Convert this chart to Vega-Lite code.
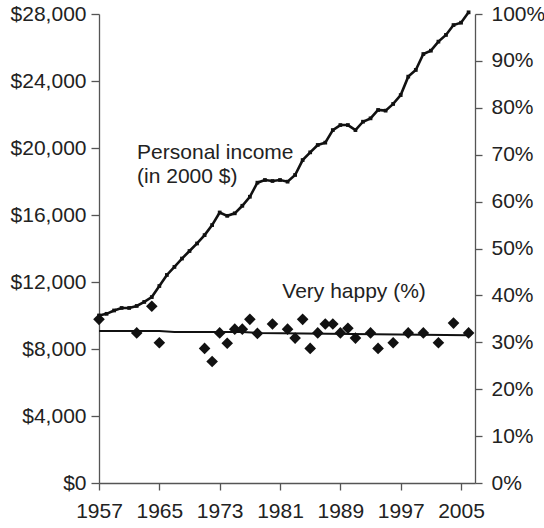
{
  "$schema": "https://vega.github.io/schema/vega-lite/v6.json",
  "width": 376,
  "height": 469,
  "autosize": {"type": "none"},
  "padding": {"left": 99, "top": 14, "right": 69, "bottom": 45},
  "background": "white",
  "config": {
    "view": {"stroke": null},
    "font": "Liberation Sans",
    "axis": {
      "grid": false,
      "domainColor": "#555555",
      "domainWidth": 1.3,
      "tickColor": "#555555",
      "tickWidth": 1.3,
      "labelFont": "Liberation Sans",
      "labelFontSize": 21,
      "labelColor": "#222222",
      "title": null
    }
  },
  "datasets": {
    "income": [
      {"year": 1957, "income": 10000}, {"year": 1958, "income": 10100}, {"year": 1959, "income": 10300},
      {"year": 1960, "income": 10450}, {"year": 1961, "income": 10450}, {"year": 1962, "income": 10570},
      {"year": 1963, "income": 10810}, {"year": 1964, "income": 11100}, {"year": 1965, "income": 11760},
      {"year": 1966, "income": 12420}, {"year": 1967, "income": 12900}, {"year": 1968, "income": 13400},
      {"year": 1969, "income": 13850}, {"year": 1970, "income": 14300}, {"year": 1971, "income": 14800},
      {"year": 1972, "income": 15400}, {"year": 1973, "income": 16150}, {"year": 1974, "income": 15950},
      {"year": 1975, "income": 16100}, {"year": 1976, "income": 16550}, {"year": 1977, "income": 17090},
      {"year": 1978, "income": 17930}, {"year": 1979, "income": 18090}, {"year": 1980, "income": 18030},
      {"year": 1981, "income": 18090}, {"year": 1982, "income": 17990}, {"year": 1983, "income": 18390},
      {"year": 1984, "income": 19280}, {"year": 1985, "income": 19740}, {"year": 1986, "income": 20180},
      {"year": 1987, "income": 20320}, {"year": 1988, "income": 21070}, {"year": 1989, "income": 21370},
      {"year": 1990, "income": 21370}, {"year": 1991, "income": 21070}, {"year": 1992, "income": 21570},
      {"year": 1993, "income": 21770}, {"year": 1994, "income": 22270}, {"year": 1995, "income": 22230},
      {"year": 1996, "income": 22630}, {"year": 1997, "income": 23160}, {"year": 1998, "income": 24260},
      {"year": 1999, "income": 24660}, {"year": 2000, "income": 25610}, {"year": 2001, "income": 25810},
      {"year": 2002, "income": 26350}, {"year": 2003, "income": 26750}, {"year": 2004, "income": 27340},
      {"year": 2005, "income": 27480}, {"year": 2006, "income": 28100}
    ],
    "happy": [
      {"year": 1957, "pct": 34.9}, {"year": 1962, "pct": 32.0}, {"year": 1964, "pct": 37.7},
      {"year": 1965, "pct": 29.9}, {"year": 1971, "pct": 28.7}, {"year": 1972, "pct": 25.9},
      {"year": 1973, "pct": 32.0}, {"year": 1974, "pct": 29.8}, {"year": 1975, "pct": 32.8},
      {"year": 1976, "pct": 32.8}, {"year": 1977, "pct": 34.9}, {"year": 1978, "pct": 31.9},
      {"year": 1980, "pct": 33.9}, {"year": 1982, "pct": 32.8}, {"year": 1983, "pct": 30.9},
      {"year": 1984, "pct": 34.9}, {"year": 1985, "pct": 28.7}, {"year": 1986, "pct": 32.0},
      {"year": 1987, "pct": 33.9}, {"year": 1988, "pct": 33.9}, {"year": 1989, "pct": 32.0},
      {"year": 1990, "pct": 33.0}, {"year": 1991, "pct": 30.9}, {"year": 1993, "pct": 32.0},
      {"year": 1994, "pct": 28.7}, {"year": 1996, "pct": 29.9}, {"year": 1998, "pct": 32.0},
      {"year": 2000, "pct": 32.0}, {"year": 2002, "pct": 29.9}, {"year": 2004, "pct": 34.1},
      {"year": 2006, "pct": 32.0}
    ],
    "trend": [
      {"year": 1957, "pct": 32.4}, {"year": 1965, "pct": 32.4}, {"year": 1967, "pct": 32.2},
      {"year": 1976, "pct": 32.2}, {"year": 1978, "pct": 32.0}, {"year": 2006, "pct": 31.5}
    ],
    "labels": [{"name": "annotations"}]
  },
  "layer": [
    {
      "layer": [
        {
          "data": {"name": "income"},
          "mark": {"type": "line", "color": "#111111", "strokeWidth": 2.6,
                   "point": {"shape": "square", "size": 14, "filled": true, "color": "#111111"}},
          "encoding": {
            "x": {"field": "year", "type": "quantitative",
                  "scale": {"domain": [1957, 2006.85], "nice": false, "zero": false},
                  "axis": {"values": [1957, 1965, 1973, 1981, 1989, 1997, 2005], "format": "d",
                           "tickSize": 7, "labelPadding": 10, "labelFlush": false}},
            "y": {"field": "income", "type": "quantitative",
                  "scale": {"domain": [0, 28000], "nice": false},
                  "axis": {"orient": "left", "values": [0, 4000, 8000, 12000, 16000, 20000, 24000, 28000],
                           "format": "$,d", "tickSize": 8, "labelPadding": 5}}
          }
        },
        {
          "data": {"name": "labels"},
          "mark": {"type": "text", "align": "left", "baseline": "alphabetic", "fontSize": 21, "color": "#222222", "font": "Liberation Sans"},
          "encoding": {
            "x": {"datum": 1962.05, "type": "quantitative"},
            "y": {"datum": 19343, "type": "quantitative"},
            "text": {"value": "Personal income"}
          }
        },
        {
          "data": {"name": "labels"},
          "mark": {"type": "text", "align": "left", "baseline": "alphabetic", "fontSize": 21, "color": "#222222", "font": "Liberation Sans"},
          "encoding": {
            "x": {"datum": 1962.05, "type": "quantitative"},
            "y": {"datum": 17910, "type": "quantitative"},
            "text": {"value": "(in 2000 $)"}
          }
        }
      ]
    },
    {
      "layer": [
        {
          "data": {"name": "trend"},
          "mark": {"type": "line", "color": "#111111", "strokeWidth": 2},
          "encoding": {
            "x": {"field": "year", "type": "quantitative"},
            "y": {"field": "pct", "type": "quantitative",
                  "scale": {"domain": [0, 100], "nice": false},
                  "axis": {"orient": "right", "values": [0, 10, 20, 30, 40, 50, 60, 70, 80, 90, 100],
                           "labelExpr": "datum.value + '%'", "tickSize": 7, "labelPadding": 9}}
          }
        },
        {
          "data": {"name": "happy"},
          "mark": {"type": "point", "shape": "diamond", "filled": true, "size": 135, "color": "#111111", "opacity": 1},
          "encoding": {
            "x": {"field": "year", "type": "quantitative"},
            "y": {"field": "pct", "type": "quantitative"}
          }
        },
        {
          "data": {"name": "labels"},
          "mark": {"type": "text", "align": "left", "baseline": "alphabetic", "fontSize": 21, "color": "#222222", "font": "Liberation Sans"},
          "encoding": {
            "x": {"datum": 1981.3, "type": "quantitative"},
            "y": {"datum": 39.4, "type": "quantitative"},
            "text": {"value": "Very happy (%)"}
          }
        }
      ]
    }
  ],
  "resolve": {"scale": {"y": "independent"}, "axis": {"y": "independent"}}
}
